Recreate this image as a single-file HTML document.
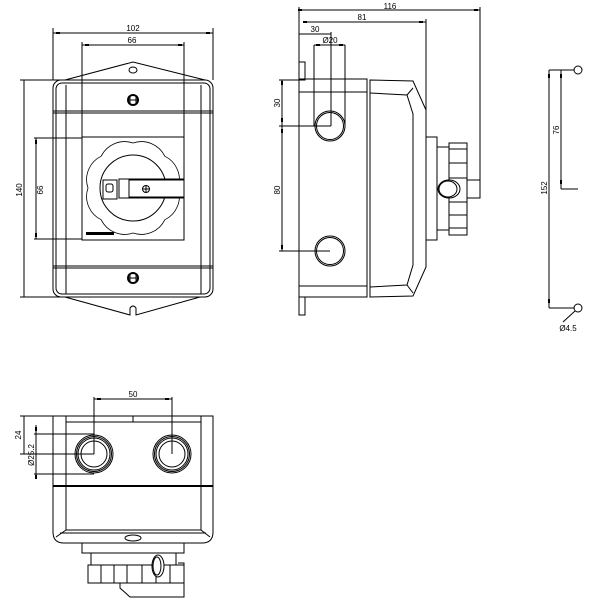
<!DOCTYPE html>
<html><head><meta charset="utf-8"><style>html,body{margin:0;padding:0;background:#fff}svg{display:block}</style></head>
<body>
<svg width="600" height="600" viewBox="0 0 600 600" xmlns="http://www.w3.org/2000/svg" font-family="Liberation Sans, sans-serif" font-size="8" fill="none" stroke="#000" stroke-width="1">
<!-- FRONT VIEW -->
<line x1="53" y1="33" x2="213" y2="33"/><line x1="53" y1="28" x2="53" y2="80"/><line x1="213" y1="28" x2="213" y2="80"/>
<text x="133" y="31" fill="#000" stroke="none" text-anchor="middle">102</text>
<line x1="82" y1="45" x2="184" y2="45"/><line x1="82" y1="42" x2="82" y2="240"/><line x1="184" y1="42" x2="184" y2="240"/>
<text x="132" y="43" fill="#000" stroke="none" text-anchor="middle">66</text>
<line x1="24" y1="80" x2="24" y2="297"/><line x1="20" y1="80" x2="60" y2="80"/><line x1="20" y1="297" x2="60" y2="297"/>
<text transform="translate(22,190) rotate(-90)" fill="#000" stroke="none" text-anchor="middle">140</text>
<line x1="36" y1="138" x2="36" y2="239"/><line x1="34" y1="138" x2="82" y2="138"/><line x1="34" y1="239" x2="82" y2="239"/>
<text transform="translate(43,190) rotate(-90)" fill="#000" stroke="none" text-anchor="middle">66</text>
<g fill="#000" stroke="none">
<rect x="56" y="32" width="4" height="2"/><rect x="206" y="32" width="4" height="2"/>
<rect x="85" y="44" width="4" height="2"/><rect x="178" y="44" width="4" height="2"/>
<rect x="35" y="140" width="2" height="4"/><rect x="35" y="233" width="2" height="4"/>
<rect x="298" y="9" width="4" height="2"/><rect x="474" y="9" width="4" height="2"/>
<rect x="303" y="21" width="4" height="2"/><rect x="419" y="21" width="4" height="2"/>
<rect x="316" y="44" width="4" height="2"/><rect x="339" y="44" width="4" height="2"/>
<rect x="281" y="81" width="2" height="4"/><rect x="281" y="118" width="2" height="4"/><rect x="281" y="129" width="2" height="4"/><rect x="281" y="245" width="2" height="4"/>
<rect x="548" y="74" width="2" height="4"/><rect x="548" y="299" width="2" height="4"/>
<rect x="560" y="74" width="2" height="4"/><rect x="560" y="180" width="2" height="4"/>
<rect x="97" y="398" width="4" height="2"/><rect x="165" y="398" width="4" height="2"/>
<rect x="35" y="427" width="2" height="4"/><rect x="35" y="475" width="2" height="4"/>
</g>
<path d="M65 80 L133 62 L205 80"/>
<ellipse cx="133" cy="70" rx="4" ry="3"/>
<path d="M65 297 L130 315 L130 308 Q133 304 136 308 L136 315 L200 297"/>
<rect x="53" y="80" width="160" height="217" rx="8"/>
<rect x="56" y="83" width="154" height="211" rx="6"/>
<line x1="66" y1="85" x2="66" y2="294"/><line x1="201" y1="85" x2="201" y2="294"/>
<line x1="53" y1="111" x2="213" y2="111"/><line x1="53" y1="113" x2="213" y2="113"/>
<line x1="53" y1="266" x2="213" y2="266"/><line x1="53" y1="268" x2="213" y2="268"/>
<circle cx="133" cy="100" r="5" stroke-width="2"/><line x1="130" y1="97" x2="130" y2="103"/><line x1="136" y1="97" x2="136" y2="103"/><line x1="128" y1="100" x2="138" y2="100"/>
<circle cx="133" cy="278" r="5" stroke-width="2"/><line x1="130" y1="275" x2="130" y2="281"/><line x1="136" y1="275" x2="136" y2="281"/><line x1="128" y1="278" x2="138" y2="278"/>
<rect x="82" y="137" width="102" height="103"/>
<path d="M178 188 A26 26 0 0 1 164.8 219.8 A26 26 0 0 1 133 233 A26 26 0 0 1 101.2 219.8 A26 26 0 0 1 88 188 A26 26 0 0 1 101.2 156.2 A26 26 0 0 1 133 143 A26 26 0 0 1 164.8 156.2 A26 26 0 0 1 178 188 Z" stroke-width="0.8"/>
<circle cx="133" cy="188" r="33"/>
<rect x="119" y="179" width="65" height="19" fill="#fff"/>
<rect x="129" y="180" width="55" height="17" fill="#fff"/>
<rect x="103" y="180" width="14" height="19" fill="#fff"/>
<rect x="106" y="184" width="7" height="8" rx="2"/>
<circle cx="146" cy="189" r="3.5"/><line x1="143" y1="189" x2="149" y2="189"/><line x1="146" y1="186" x2="146" y2="192"/>
<rect x="86" y="232" width="28" height="3" fill="#000" stroke="none"/>
<!-- SIDE VIEW -->
<line x1="299" y1="10" x2="480" y2="10"/><line x1="299" y1="7" x2="299" y2="80"/><line x1="480" y1="7" x2="480" y2="180"/>
<text x="390" y="9" fill="#000" stroke="none" text-anchor="middle">116</text>
<line x1="303" y1="22" x2="426" y2="22"/><line x1="426" y1="19" x2="426" y2="110"/>
<text x="362" y="20" fill="#000" stroke="none" text-anchor="middle">81</text>
<line x1="299" y1="34" x2="331" y2="34"/><line x1="331" y1="32" x2="331" y2="126"/>
<text x="315" y="32" fill="#000" stroke="none" text-anchor="middle">30</text>
<line x1="314" y1="45" x2="345" y2="45"/><line x1="314" y1="45" x2="314" y2="126"/><line x1="345" y1="45" x2="345" y2="126"/>
<text x="330" y="43" fill="#000" stroke="none" text-anchor="middle">Ø20</text>
<line x1="282" y1="80" x2="282" y2="251"/><line x1="279" y1="80" x2="299" y2="80"/><line x1="279" y1="126" x2="331" y2="126"/><line x1="279" y1="251" x2="330" y2="251"/>
<text transform="translate(280,103) rotate(-90)" fill="#000" stroke="none" text-anchor="middle">30</text>
<text transform="translate(280,190) rotate(-90)" fill="#000" stroke="none" text-anchor="middle">80</text>
<rect x="299" y="62" width="6" height="18"/><rect x="299" y="297" width="6" height="18"/>
<rect x="299" y="79" width="68" height="218"/>
<line x1="299" y1="92" x2="367" y2="92"/><line x1="299" y1="286" x2="367" y2="286"/>
<path d="M370 80 L413 81 L426 110 L426 267 L413 296 L370 297 Z"/>
<path d="M370 93 L407 95 L413 114 L413 265 L407 285 L370 287"/>
<line x1="407" y1="95" x2="413" y2="88"/><line x1="407" y1="285" x2="413" y2="293"/>
<circle cx="330" cy="126" r="15"/><circle cx="330" cy="126" r="13.5"/>
<circle cx="330" cy="251" r="15"/><circle cx="330" cy="251" r="13.5"/>
<rect x="426" y="137" width="11" height="103"/>
<rect x="437" y="147" width="12" height="83"/>
<rect x="449" y="143" width="18" height="92" fill="#fff"/>
<line x1="449" y1="149" x2="467" y2="149"/><line x1="449" y1="163" x2="467" y2="163"/><line x1="449" y1="178" x2="467" y2="178"/><line x1="449" y1="202" x2="467" y2="202"/><line x1="449" y1="215" x2="467" y2="215"/><line x1="449" y1="228" x2="467" y2="228"/>
<rect x="467" y="180" width="13" height="18"/>
<ellipse cx="449" cy="189" rx="11" ry="9" fill="#fff"/><ellipse cx="448" cy="189" rx="9" ry="8"/>
<!-- RIGHT DETAIL -->
<line x1="549" y1="70" x2="549" y2="308"/><line x1="549" y1="70" x2="574" y2="70"/><line x1="549" y1="308" x2="574" y2="308"/>
<line x1="561" y1="70" x2="561" y2="189"/><line x1="561" y1="189" x2="578" y2="189"/>
<circle cx="578" cy="70" r="4"/><circle cx="578" cy="308" r="4"/>
<line x1="575" y1="311" x2="563" y2="322"/>
<text transform="translate(547,188) rotate(-90)" fill="#000" stroke="none" text-anchor="middle">152</text>
<text transform="translate(559,130) rotate(-90)" fill="#000" stroke="none" text-anchor="middle">76</text>
<text x="568" y="331" fill="#000" stroke="none" text-anchor="middle">Ø4.5</text>
<!-- BOTTOM VIEW -->
<line x1="94" y1="399" x2="172" y2="399"/><line x1="94" y1="397" x2="94" y2="454"/><line x1="172" y1="397" x2="172" y2="454"/>
<text x="133" y="397" fill="#000" stroke="none" text-anchor="middle">50</text>
<line x1="24" y1="416" x2="24" y2="454"/><line x1="20" y1="416" x2="53" y2="416"/><line x1="20" y1="454" x2="94" y2="454"/>
<text transform="translate(21,435) rotate(-90)" fill="#000" stroke="none" text-anchor="middle">24</text>
<line x1="36" y1="425" x2="36" y2="478"/><line x1="34" y1="434" x2="94" y2="434"/><line x1="34" y1="474" x2="94" y2="474"/>
<text transform="translate(34,455) rotate(-90)" fill="#000" stroke="none" text-anchor="middle">Ø25.2</text>
<path d="M53 416 L213 416 L213 532 Q213 543 202 543 L64 543 Q53 543 53 532 Z"/>
<line x1="66" y1="416" x2="66" y2="530"/><line x1="201" y1="416" x2="201" y2="530"/>
<line x1="66" y1="422" x2="201" y2="422"/><line x1="133" y1="416" x2="133" y2="422"/>
<line x1="53" y1="486" x2="213" y2="486" stroke-width="2"/>
<path d="M66 530 L201 530 L210 537 M66 530 L56 537"/>
<line x1="60" y1="533" x2="206" y2="533"/>
<ellipse cx="133" cy="538" rx="8" ry="3"/>
<circle cx="94" cy="454" r="19"/><circle cx="94" cy="454" r="17.5"/><circle cx="94" cy="454" r="16"/><circle cx="94" cy="454" r="13"/>
<circle cx="172" cy="454" r="19"/><circle cx="172" cy="454" r="17.5"/><circle cx="172" cy="454" r="16"/><circle cx="172" cy="454" r="13"/>
<rect x="82" y="543" width="102" height="10"/>
<path d="M91 553 L91 565 M176 553 L176 565"/>
<rect x="88" y="565" width="96" height="18"/>
<line x1="101" y1="565" x2="101" y2="583"/><line x1="114" y1="565" x2="114" y2="583"/><line x1="127" y1="565" x2="127" y2="583"/><line x1="142" y1="565" x2="142" y2="583"/><line x1="156" y1="565" x2="156" y2="583"/><line x1="170" y1="565" x2="170" y2="583"/>
<path d="M120 583 L120 588 L130 597 L184 597 L184 563 L178 563"/>
<ellipse cx="158" cy="566" rx="6" ry="11" fill="#fff"/><ellipse cx="157" cy="566" rx="4" ry="9"/>
</svg>
</body></html>
